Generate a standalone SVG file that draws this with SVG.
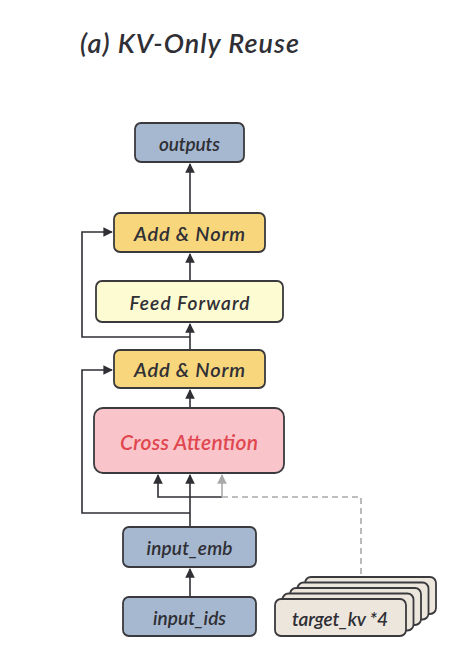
<svg xmlns="http://www.w3.org/2000/svg" width="452" height="646" viewBox="0 0 452 646">
<style>
text{font-family:"Lato","Liberation Sans",sans-serif;font-style:italic;font-weight:600;fill:#2f2f35;text-anchor:middle;dominant-baseline:central}
.box{stroke:#3a3a3e;stroke-width:1.8}
.blue{fill:#a6b8d0}
.gold{fill:#f7d67c}
.cream{fill:#fdfbd2}
.pink{fill:#f9c5cb}
.beige{fill:#ede6dd}
.ln{fill:none;stroke:#2f2f35;stroke-width:1.6}
.gray{fill:none;stroke:#aaaaaa;stroke-width:1.6}
.dash{fill:none;stroke:#aaaaaa;stroke-width:1.6;stroke-dasharray:6 4}
</style>
<defs>
<marker id="ah" viewBox="0 0 10 10" refX="9" refY="5" markerWidth="6" markerHeight="6" orient="auto"><path d="M0,0 L10,5 L0,10 z" fill="#2f2f35"/></marker>
<marker id="ahg" viewBox="0 0 10 10" refX="9" refY="5" markerWidth="6" markerHeight="6" orient="auto"><path d="M0,0 L10,5 L0,10 z" fill="#aaaaaa"/></marker>
</defs>
<rect width="452" height="646" fill="#ffffff"/>
<text x="80" y="42" textLength="219" lengthAdjust="spacing" style="font-size:27px;font-weight:600;text-anchor:start">(a) KV-Only Reuse</text>

<g id="connectors">
<path class="ln" d="M190,213 V164" marker-end="url(#ah)"/>
<path class="ln" d="M190,281 V254" marker-end="url(#ah)"/>
<path class="ln" d="M190,350 V324" marker-end="url(#ah)"/>
<path class="ln" d="M190,408 V390" marker-end="url(#ah)"/>
<path class="ln" d="M190,337 H82 V232 H112" marker-end="url(#ah)"/>
<path class="ln" d="M190,513 H82 V370 H112" marker-end="url(#ah)"/>
<path class="ln" d="M190,527 V475" marker-end="url(#ah)"/>
<path class="ln" d="M222,497 H158 V475" marker-end="url(#ah)"/>
<path class="gray" d="M222,497 V475" marker-end="url(#ahg)"/>
<path class="dash" d="M222,497 H361 V577"/>
<path class="ln" d="M190,597 V569" marker-end="url(#ah)"/>
</g>

<g id="outputs"><rect class="box blue" x="135" y="123" width="109" height="39" rx="6"/><text x="189.5" y="143" textLength="61" lengthAdjust="spacing" style="font-size:19px">outputs</text></g>
<g id="add-norm-top"><rect class="box gold" x="114" y="213" width="151" height="39" rx="6"/><text x="189.5" y="233" textLength="111" lengthAdjust="spacing" style="font-size:20px">Add &amp; Norm</text></g>
<g id="feed-forward"><rect class="box cream" x="96" y="281" width="187" height="41" rx="6"/><text x="189.5" y="302" textLength="120" lengthAdjust="spacing" style="font-size:19px">Feed Forward</text></g>
<g id="add-norm-bottom"><rect class="box gold" x="114" y="350" width="151" height="38" rx="6"/><text x="189.5" y="369" textLength="111" lengthAdjust="spacing" style="font-size:20px">Add &amp; Norm</text></g>
<g id="cross-attention"><rect class="box pink" x="94" y="408" width="190" height="65" rx="9"/><text x="189" y="441" textLength="138" lengthAdjust="spacing" style="font-size:21px;fill:#e0474f">Cross Attention</text></g>
<g id="input-emb"><rect class="box blue" x="123" y="527" width="133" height="40" rx="6"/><text x="189.5" y="547" textLength="86" lengthAdjust="spacing" style="font-size:19px">input_emb</text></g>
<g id="input-ids"><rect class="box blue" x="123" y="597" width="133" height="39" rx="6"/><text x="189.5" y="617" textLength="73" lengthAdjust="spacing" style="font-size:19px">input_ids</text></g>
<g id="target-kv">
<rect class="box beige" x="305" y="577" width="131" height="37" rx="6"/>
<rect class="box beige" x="297.5" y="582.5" width="131" height="37" rx="6"/>
<rect class="box beige" x="290" y="588" width="131" height="37" rx="6"/>
<rect class="box beige" x="282.5" y="593.5" width="131" height="37" rx="6"/>
<rect class="box beige" x="275" y="599" width="131" height="37" rx="6"/>
<text x="340" y="618" textLength="96" lengthAdjust="spacing" style="font-size:19px">target_kv *4</text>
</g>
</svg>
